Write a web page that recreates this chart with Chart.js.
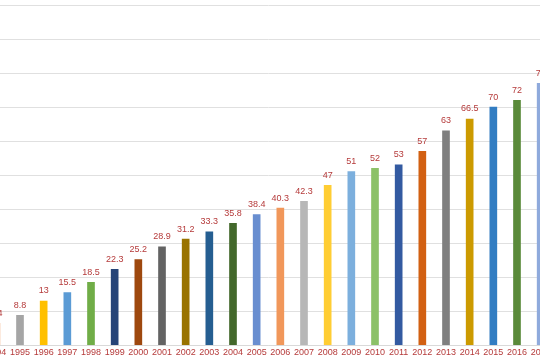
<!DOCTYPE html>
<html>
<head>
<meta charset="utf-8">
<script src="https://cdn.jsdelivr.net/npm/chart.js@4"></script>
<style>
  body { margin: 0; background: #fff; }
  #wrap { position: relative; width: 540px; height: 360px; overflow: hidden; }
  #box { position: absolute; left: -20px; top: 0; width: 580px; height: 360px; }
</style>
</head>
<body>
<div id="wrap"><div id="box"><canvas id="myChart"></canvas></div></div>
<script>
// données
const years = ["1994", "1995", "1996", "1997", "1998", "1999", "2000", "2001", "2002", "2003", "2004", "2005",
  "2006", "2007", "2008", "2009", "2010", "2011", "2012", "2013", "2014", "2015", "2016", "2017"];
const values = [6.4, 8.8, 13, 15.5, 18.5, 22.3, 25.2, 28.9, 31.2, 33.3, 35.8, 38.4,
  40.3, 42.3, 47, 51, 52, 53, 57, 63, 66.5, 70, 72, 77];
const barColors = ["#ED7D31", "#A5A5A5", "#FFC000", "#5B9BD5", "#70AD47", "#264478", "#9E480E", "#636363",
  "#997300", "#255E91", "#43682B", "#698ED0", "#F1975A", "#B7B7B7", "#FFCD33", "#7CAFDD", "#8CC168",
  "#335AA1", "#D26012", "#7F7F7F", "#CC9A00", "#327DC2", "#5A8A3A", "#8FAADC"];

const labelColor = "#B53A3A";

// étiquettes de valeur au-dessus des barres
const valueLabels = {
  id: 'valueLabels',
  afterDatasetsDraw(chart) {
    const c = chart.ctx;
    const meta = chart.getDatasetMeta(0);
    c.save();
    c.fillStyle = labelColor;
    c.font = '9px "Liberation Sans"';
    c.textAlign = 'center';
    c.textBaseline = 'middle';
    meta.data.forEach((bar, i) => {
      c.fillText(values[i], bar.x, bar.y - 10);
    });
    c.restore();
  }
};

const ctx = document.getElementById('myChart');
new Chart(ctx, {
  type: 'bar',
  data: {
    labels: years,
    datasets: [{
      data: values,
      backgroundColor: barColors,
      barThickness: 7
    }]
  },
  options: {
    responsive: true,
    maintainAspectRatio: false,
    animation: false,
    layout: { padding: { left: 4.5, right: 7.5, top: 5, bottom: 0 } },
    plugins: { legend: { display: false }, tooltip: { enabled: false } },
    scales: {
      x: {
        grid: { display: false, drawTicks: false },
        border: { color: '#D9D9D9' },
        ticks: { color: labelColor, font: { family: 'Liberation Sans', size: 9 }, padding: 2, maxRotation: 0, autoSkip: false }
      },
      y: {
        min: 0,
        max: 100,
        ticks: { display: false, stepSize: 10 },
        grid: { color: '#E0E0E0', drawTicks: false },
        border: { display: false }
      }
    }
  },
  plugins: [valueLabels]
});
</script>
</body>
</html>
